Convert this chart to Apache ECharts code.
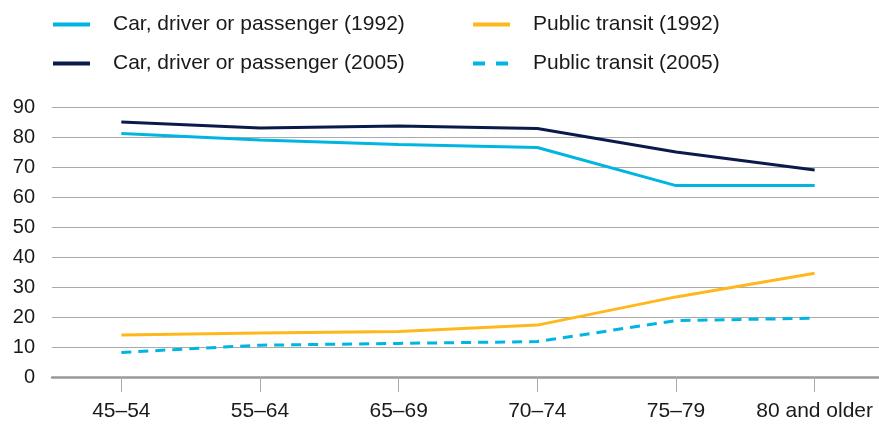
<!DOCTYPE html>
<html lang="en">

<head>
    <meta charset="UTF-8">
    <title>Mode of travel by age</title>
    <script src="https://cdn.jsdelivr.net/npm/echarts@6/dist/echarts.min.js"></script>
    <style>
        html, body { margin: 0; padding: 0; background: #fff; }
        #chart { width: 879px; height: 428px; }
    </style>
</head>

<body>
    <div id="chart"></div>

    <script>
        // 数据
        var ageGroups = ['45–54', '55–64', '65–69', '70–74', '75–79', '80 and older'];
        var car1992 = [81.2, 79, 77.5, 76.5, 63.8, 63.8];
        var car2005 = [85, 83, 83.7, 82.8, 75, 69];
        var transit1992 = [14, 14.7, 15.2, 17.3, 26.7, 34.6];
        var transit2005 = [8.2, 10.6, 11.2, 11.8, 18.8, 19.6];
        var yTicks = [0, 90, 10]; // min, max, interval

        var font = '"Liberation Sans", Arial, Helvetica, sans-serif';
        var textColor = '#1a1a1a';

        var myChart = echarts.init(document.getElementById('chart'));

        function lineSeries(name, data, color, dashed) {
            return {
                name: name,
                type: 'line',
                data: data,
                symbol: 'none',
                smooth: false,
                lineStyle: { color: color, width: 3, type: dashed ? [10, 7] : 'solid' },
                itemStyle: { color: color }
            };
        }

        var legendCommon = {
            orient: 'vertical',
            top: 9,
            itemWidth: 37,
            itemHeight: 14,
            itemGap: 18,
            itemStyle: { opacity: 0 },
            lineStyle: { width: 4 },
            textStyle: { fontFamily: font, fontSize: 21, color: textColor, padding: [0, 0, 0, 18] }
        };

        var option = {
            animation: false,
            backgroundColor: '#fff',
            legend: [
                Object.assign({}, legendCommon, {
                    left: 46,
                    data: ['Car, driver or passenger (1992)', 'Car, driver or passenger (2005)']
                }),
                Object.assign({}, legendCommon, {
                    left: 466,
                    data: [
                        'Public transit (1992)',
                        { name: 'Public transit (2005)', lineStyle: { type: [12, 11] } }
                    ]
                })
            ],
            grid: { left: 52, width: 832, top: 107, height: 270, containLabel: false, outerBoundsMode: 'none' },
            xAxis: {
                type: 'category',
                data: ageGroups,
                boundaryGap: true,
                axisLine: { lineStyle: { color: '#999', width: 2.5 } },
                axisTick: { show: true, alignWithLabel: true, interval: 0, length: 15, lineStyle: { color: '#aaa', width: 1 } },
                axisLabel: { interval: 0, margin: 24, fontFamily: font, fontSize: 21, color: textColor }
            },
            yAxis: {
                type: 'value',
                min: yTicks[0],
                max: yTicks[1],
                interval: yTicks[2],
                axisLine: { show: false },
                axisTick: { show: false },
                splitLine: { lineStyle: { color: '#aaa', width: 1 } },
                axisLabel: { margin: 17, fontFamily: font, fontSize: 20, color: textColor }
            },
            series: [
                lineSeries('Car, driver or passenger (1992)', car1992, '#00b5e2', false),
                lineSeries('Car, driver or passenger (2005)', car2005, '#0a1a4a', false),
                lineSeries('Public transit (1992)', transit1992, '#ffb81c', false),
                lineSeries('Public transit (2005)', transit2005, '#00b5e2', true)
            ]
        };

        myChart.setOption(option);
    </script>
</body>

</html>
